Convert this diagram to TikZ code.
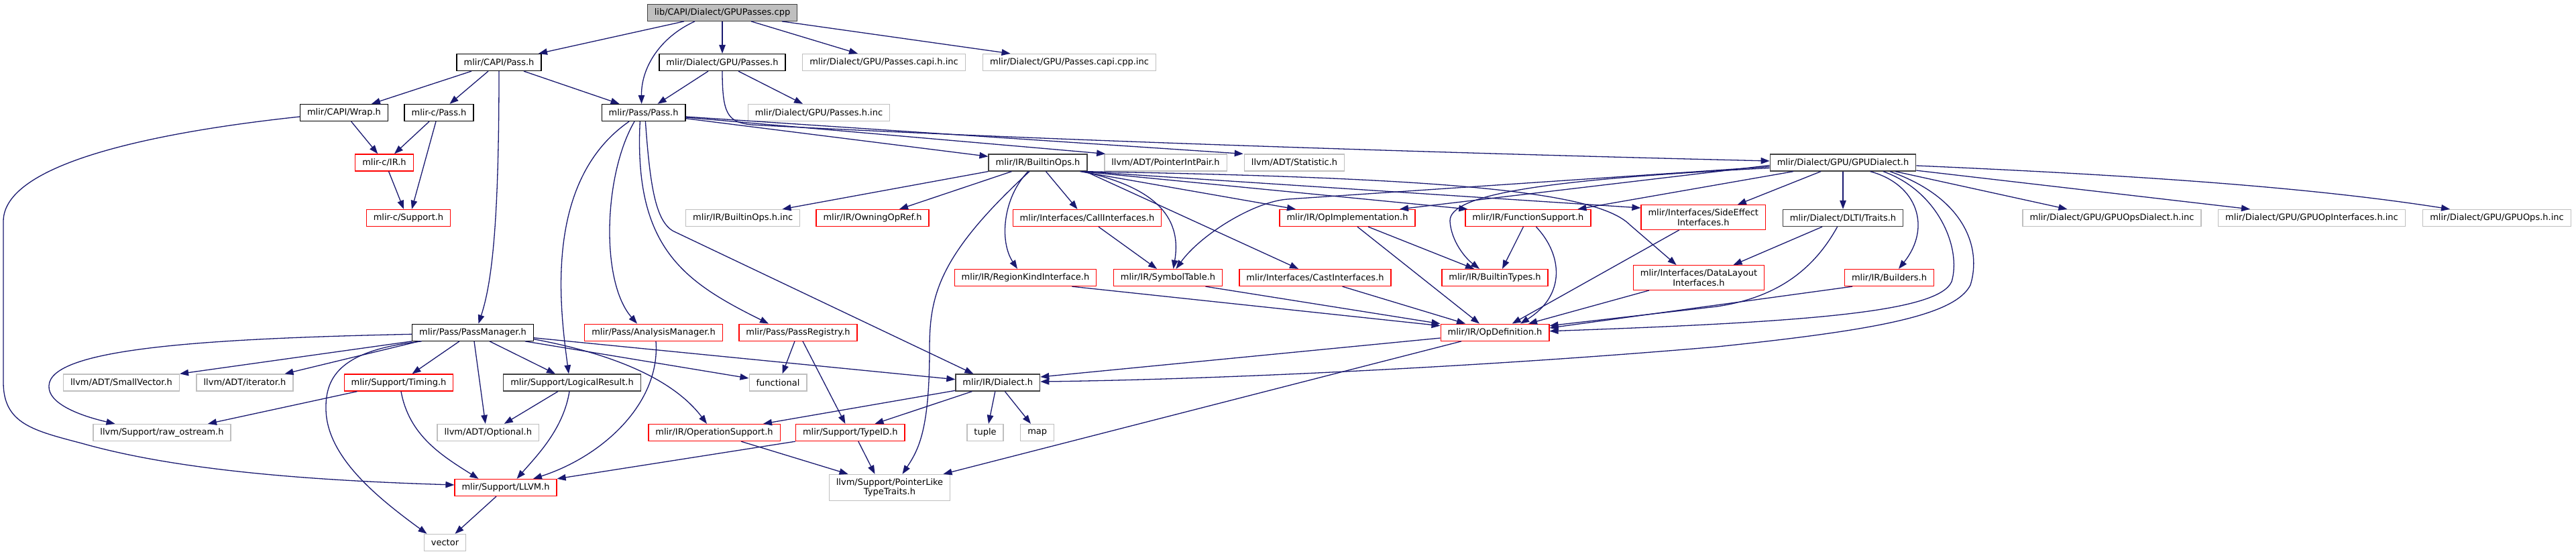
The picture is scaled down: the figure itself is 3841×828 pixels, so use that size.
\documentclass[tikz,border=0pt]{standalone}
\usepackage{fontspec}
\setmainfont{DejaVu Sans}
\usetikzlibrary{arrows.meta}
\definecolor{edgeblue}{HTML}{191970}
\definecolor{greyb}{HTML}{BFBFBF}
\definecolor{darkb}{HTML}{404040}
\definecolor{redb}{HTML}{FF0000}
\tikzset{
  nd/.style={draw, rectangle, font=\fontsize{13pt}{14.5pt}\selectfont, inner xsep=10.5pt, inner ysep=6pt,
    minimum height=25pt, line width=1.3pt, align=center, fill=white},
  dk/.style={nd, draw=black},
  dg/.style={nd, draw=darkb},
  rd/.style={nd, draw=redb},
  gy/.style={nd, draw=greyb},
  edge/.style={draw=edgeblue, line width=1.3pt, -{Triangle[length=13pt,width=9.5pt]}}
}
\begin{document}
\begin{tikzpicture}[x=1pt,y=-1pt]
\useasboundingbox (0,0) rectangle (3841,828);
% rank 0
\node[dg, fill=greyb] (root) at (1077,18.7) {lib/CAPI/Dialect/GPUPasses.cpp};
% rank 1
\node[dk] (capipass) at (744,93) {mlir/CAPI/Pass.h};
\node[dk] (gpupasses) at (1077,93) {mlir/Dialect/GPU/Passes.h};
\node[gy] (capih) at (1318,93) {mlir/Dialect/GPU/Passes.capi.h.inc};
\node[gy] (capicpp) at (1594.5,93) {mlir/Dialect/GPU/Passes.capi.cpp.inc};
% rank 2
\node[dk] (wrap) at (513,168) {mlir/CAPI/Wrap.h};
\node[dk] (cpass) at (654.5,168) {mlir-c/Pass.h};
\node[dk] (pass) at (959.6,168) {mlir/Pass/Pass.h};
\node[gy] (passesinc) at (1221,168) {mlir/Dialect/GPU/Passes.h.inc};
% rank 3
\node[rd] (cir) at (573,242.5) {mlir-c/IR.h};
\node[dg] (builtinops) at (1547.5,242.5) {mlir/IR/BuiltinOps.h};
\node[gy] (pip) at (1738,242.5) {llvm/ADT/PointerIntPair.h};
\node[gy] (stat) at (1930,242.5) {llvm/ADT/Statistic.h};
\node[dg] (gpudialect) at (2748,242.5) {mlir/Dialect/GPU/GPUDialect.h};
% rank 4
\node[rd] (csupport) at (609,325) {mlir-c/Support.h};
\node[gy] (boinc) at (1107.7,325) {mlir/IR/BuiltinOps.h.inc};
\node[rd] (owning) at (1301,325) {mlir/IR/OwningOpRef.h};
\node[rd] (callif) at (1621,325) {mlir/Interfaces/CallInterfaces.h};
\node[rd] (opimpl) at (2009,325) {mlir/IR/OpImplementation.h};
\node[rd] (funcsup) at (2278.4,325) {mlir/IR/FunctionSupport.h};
\node[rd] (sideeff) at (2539.8,324) {mlir/Interfaces/SideEffect\\Interfaces.h};
\node[dg] (dlti) at (2748,325) {mlir/Dialect/DLTI/Traits.h};
\node[gy] (opsdial) at (3149,325) {mlir/Dialect/GPU/GPUOpsDialect.h.inc};
\node[gy] (opif) at (3447,325) {mlir/Dialect/GPU/GPUOpInterfaces.h.inc};
\node[gy] (opsinc) at (3723,325) {mlir/Dialect/GPU/GPUOps.h.inc};
% rank 5
\node[rd] (regkind) at (1529,414) {mlir/IR/RegionKindInterface.h};
\node[rd] (symtab) at (1741.5,414) {mlir/IR/SymbolTable.h};
\node[rd] (castif) at (1961,414) {mlir/Interfaces/CastInterfaces.h};
\node[rd] (btypes) at (2229,414) {mlir/IR/BuiltinTypes.h};
\node[rd] (datalayout) at (2533,414) {mlir/Interfaces/DataLayout\\Interfaces.h};
\node[rd] (builders) at (2817,414) {mlir/IR/Builders.h};
% rank 6
\node[dk] (passmgr) at (705,495.7) {mlir/Pass/PassManager.h};
\node[rd] (analysis) at (974.5,495.7) {mlir/Pass/AnalysisManager.h};
\node[rd] (registry) at (1190,495.7) {mlir/Pass/PassRegistry.h};
\node[rd] (opdef) at (2229,495.7) {mlir/IR/OpDefinition.h};
% rank 7
\node[gy] (smallvec) at (181,570.5) {llvm/ADT/SmallVector.h};
\node[gy] (iter) at (365,570.5) {llvm/ADT/iterator.h};
\node[rd] (timing) at (594.5,570.5) {mlir/Support/Timing.h};
\node[dg] (logical) at (853,570.5) {mlir/Support/LogicalResult.h};
\node[gy] (functional) at (1160,570.5) {functional};
\node[dg] (dialect) at (1487.8,570.5) {mlir/IR/Dialect.h};
% rank 8
\node[gy] (rawos) at (241.5,645) {llvm/Support/raw\_ostream.h};
\node[gy] (optional) at (727.8,645) {llvm/ADT/Optional.h};
\node[rd] (opsupport) at (1065,645) {mlir/IR/OperationSupport.h};
\node[rd] (typeid) at (1267.8,645) {mlir/Support/TypeID.h};
\node[gy] (tuple) at (1469,645) {tuple};
\node[gy] (map) at (1546.7,645) {map};
% rank 9
\node[rd] (llvmh) at (754,727) {mlir/Support/LLVM.h};
\node[gy] (ptrlike) at (1326.5,727) {llvm/Support/PointerLike\\TypeTraits.h};
% rank 10
\node[gy] (vector) at (663.5,809) {vector};

% ---- edges from root
\draw[edge] ([xshift=-57pt]root.south) -- ([xshift=59pt]capipass.north);
\draw[edge] ([xshift=-41pt]root.south) .. controls (985,55) and (956,100) .. ([xshift=-3pt]pass.north);
\draw[edge] (root.south) -- (gpupasses.north);
\draw[edge] ([xshift=43pt]root.south) -- ([xshift=-39pt]capih.north);
\draw[edge] ([xshift=89pt]root.south) -- ([xshift=-88pt]capicpp.north);
% ---- capipass
\draw[edge] ([xshift=-41pt]capipass.south) -- ([xshift=41pt]wrap.north);
\draw[edge] ([xshift=-16pt]capipass.south) -- ([xshift=16pt]cpass.north);
\draw[edge] ([xshift=37pt]capipass.south) -- ([xshift=-36pt]pass.north);
\draw[edge] (capipass.south) .. controls (744,330) and (734,420) .. ([xshift=8.5pt]passmgr.north);
% ---- gpupasses
\draw[edge] ([xshift=-21pt]gpupasses.south) -- ([xshift=21pt]pass.north);
\draw[edge] ([xshift=24pt]gpupasses.south) -- ([xshift=-24pt]passesinc.north);
\draw[edge] (gpupasses.south) .. controls (1077,170) and (1085,182) .. (1120,186) .. controls (1600,212) and (2300,232) .. ([yshift=2.5pt]gpudialect.west);
% ---- pass
\draw[edge] ([yshift=-8.7pt]pass.east) -- ([yshift=9.2pt]builtinops.west);
\draw[edge] ([yshift=-7pt]pass.east) -- ([xshift=2pt]pip.north west);
\draw[edge] ([yshift=-6pt]pass.east) -- ([xshift=-1pt]stat.north west);
\draw[edge] ([xshift=-21.6pt]pass.south) .. controls (810,270) and (835,460) .. ([xshift=-5pt]logical.north);
\draw[edge] ([xshift=-13.6pt]pass.south) .. controls (900,260) and (895,420) .. ([xshift=-24.5pt]analysis.north);
\draw[edge] ([xshift=-5.3pt]pass.south) .. controls (945,370) and (1020,420) .. ([xshift=-44pt]registry.north);
\draw[edge] ([xshift=2.8pt]pass.south) .. controls (970,290) and (980,336) .. (1009,347) -- ([xshift=-36.4pt]dialect.north);
% ---- builtinops
\draw[edge] (builtinops.south west) -- ([xshift=58.8pt]boinc.north);
\draw[edge] ([xshift=-39pt]builtinops.south) -- ([xshift=40pt]owning.north);
\draw[edge] ([xshift=12pt]builtinops.south) -- ([xshift=-14.5pt]callif.north);
\draw[edge] ([xshift=-14.5pt]builtinops.south) .. controls (1495,295) and (1490,360) .. ([xshift=-12pt]regkind.north);
\draw[edge] ([xshift=-12.5pt]builtinops.south) .. controls (1400,380) and (1386,440) .. (1386,520) .. controls (1386,640) and (1370,670) .. ([xshift=19pt]ptrlike.north);
\draw[edge] ([xshift=67pt]builtinops.south) .. controls (1700,275) and (1765,310) .. ([xshift=8pt]symtab.north);
\draw[edge] ([xshift=71pt]builtinops.south) -- ([xshift=-25pt]castif.north);
\draw[edge] ([xshift=63pt]builtinops.south) -- ([xshift=-77pt]opimpl.north);
\draw[edge] ([xshift=65pt]builtinops.south) -- ([xshift=4pt]funcsup.north west);
\draw[edge] ([xshift=67pt]builtinops.south) -- ([yshift=14pt]sideeff.west);
\draw[edge] ([xshift=69pt]builtinops.south) .. controls (2150,265) and (2380,285) .. (2430,335) -- ([xshift=-33.4pt]datalayout.north);
% ---- gpudialect
\draw[edge] ([yshift=-4pt]gpudialect.west) -- ([xshift=78pt]opimpl.north);
\draw[edge] ([yshift=-6pt]gpudialect.west) -- (1920,297) .. controls (1870,300.4) and (1790,350) .. ([xshift=12pt]symtab.north);
\draw[edge] ([yshift=-8pt]gpudialect.west) .. controls (2300,268) and (2160,290) .. (2162,330) .. controls (2164,360) and (2185,385) .. ([xshift=-23pt]btypes.north);
\draw[edge] ([xshift=-74pt]gpudialect.south) -- ([xshift=74pt]funcsup.north);
\draw[edge] ([xshift=-33pt]gpudialect.south) -- ([xshift=51pt]sideeff.north);
\draw[edge] (gpudialect.south) -- (dlti.north);
\draw[edge] ([xshift=40.6pt]gpudialect.south) .. controls (2860,275) and (2880,340) .. ([xshift=14pt]builders.north);
\draw[edge] ([xshift=60pt]gpudialect.south) .. controls (2890,285) and (2925,370) .. (2910,420) .. controls (2890,465) and (2700,480) .. ([yshift=2pt]opdef.east);
\draw[edge] ([xshift=70pt]gpudialect.south) .. controls (2930,295) and (2955,370) .. (2938,425) .. controls (2915,470) and (2800,492) .. (2560,517) .. controls (2200,548) and (1800,566) .. ([yshift=1.5pt]dialect.east);
\draw[edge] ([xshift=78pt]gpudialect.south) -- ([xshift=-66.6pt]opsdial.north);
\draw[edge] ([yshift=1.5pt]gpudialect.south east) -- ([xshift=-92pt]opif.north);
\draw[edge] ([yshift=-4.5pt]gpudialect.east) .. controls (3200,262) and (3450,280) .. ([xshift=-70pt]opsinc.north);
% ---- C API cluster
\draw[edge] ([xshift=-14.5pt]cpass.south) -- ([xshift=15pt]cir.north);
\draw[edge] ([xshift=-4.5pt]cpass.south) -- ([xshift=5pt]csupport.north);
\draw[edge] ([xshift=10.7pt]wrap.south) -- ([xshift=-9.7pt]cir.north);
\draw[edge] ([xshift=6.6pt]cir.south) -- ([xshift=-7pt]csupport.north);
\draw[edge] ([yshift=-6pt]wrap.west) .. controls (250,195) and (5,240) .. (5,330) -- (5,570) .. controls (5,632) and (50,642) .. (122,661) .. controls (260,700) and (450,716) .. ([yshift=4pt]llvmh.west);
% ---- passmgr
\draw[edge] (passmgr.south west) -- (smallvec.north east);
\draw[edge] ([xshift=-80pt]passmgr.south) -- ([xshift=59.5pt]iter.north);
\draw[edge] ([yshift=-2.6pt]passmgr.west) .. controls (300,505) and (75,520) .. (73,575) .. controls (71,602) and (120,620) .. ([xshift=-70pt]rawos.north);
\draw[edge] ([xshift=-20pt]passmgr.south) -- ([xshift=20pt]timing.north);
\draw[edge] ([xshift=-76.4pt]passmgr.south) .. controls (510,522) and (485,560) .. (486,610) .. controls (487,680) and (560,740) .. ([xshift=-27pt]vector.north);
\draw[edge] ([xshift=2pt]passmgr.south) -- ([xshift=-4pt]optional.north);
\draw[edge] ([xshift=25pt]passmgr.south) -- ([xshift=-25pt]logical.north);
\draw[edge] ([xshift=78pt]passmgr.south) -- ([yshift=6.5pt]functional.west);
\draw[edge] ([yshift=-10pt]passmgr.east) .. controls (900,525) and (1000,560) .. ([xshift=-11pt]opsupport.north);
\draw[edge] ([yshift=-8pt]passmgr.east) -- ([yshift=4.8pt]dialect.west);
% ---- analysis / registry / logical / timing / llvm
\draw[edge] ([xshift=3.5pt]analysis.south) .. controls (985,600) and (900,680) .. ([xshift=41pt]llvmh.north);
\draw[edge] ([xshift=-5pt]registry.south) -- ([xshift=6.5pt]functional.north);
\draw[edge] ([xshift=7pt]registry.south) -- ([xshift=-7.4pt]typeid.north);
\draw[edge] ([xshift=-21pt]logical.south) -- ([xshift=24pt]optional.north);
\draw[edge] ([xshift=-4pt]logical.south) .. controls (840,640) and (800,680) .. ([xshift=16.6pt]llvmh.north);
\draw[edge] ([xshift=-62pt]timing.south) -- ([xshift=68.5pt]rawos.north);
\draw[edge] ([xshift=3.5pt]timing.south) .. controls (610,650) and (660,680) .. ([xshift=-40.5pt]llvmh.north);
\draw[edge] ([xshift=-14pt]llvmh.south) -- ([xshift=15pt]vector.north);
% ---- dialect
\draw[edge] ([yshift=-11.8pt]dialect.west) -- ([xshift=73pt]opsupport.north);
\draw[edge] ([xshift=-38.4pt]dialect.south) -- ([xshift=36.7pt]typeid.north);
\draw[edge] ([xshift=-4pt]dialect.south) -- ([xshift=5pt]tuple.north);
\draw[edge] ([xshift=10.6pt]dialect.south) -- ([xshift=-9.7pt]map.north);
\draw[edge] ([xshift=12pt]typeid.south) -- ([xshift=-22pt]ptrlike.north);
\draw[edge] (typeid.south west) -- (llvmh.north east);
\draw[edge] ([xshift=40pt]opsupport.south) -- ([xshift=-62pt]ptrlike.north);
% ---- opdef
\draw[edge] ([yshift=-8.3pt]opdef.west) -- ([yshift=8.5pt]dialect.east);
\draw[edge] ([xshift=-50pt]opdef.south) -- ([xshift=80pt]ptrlike.north);
\draw[edge] ([xshift=69.4pt]regkind.south) -- ([yshift=10pt]opdef.west);
\draw[edge] ([xshift=56pt]symtab.south) -- ([yshift=13pt]opdef.west);
\draw[edge] ([xshift=40.6pt]castif.south) -- ([xshift=-44pt]opdef.north);
\draw[edge] ([xshift=15pt]opimpl.south) -- ([xshift=-23pt]opdef.north);
\draw[edge] ([xshift=12pt]funcsup.south) .. controls (2330,380) and (2335,440) .. ([xshift=38pt]opdef.north);
\draw[edge] ([xshift=-36pt]sideeff.south) -- ([xshift=25.7pt]opdef.north);
\draw[edge] ([xshift=-74pt]datalayout.south) -- ([xshift=50pt]opdef.north);
\draw[edge] ([xshift=-8.4pt]dlti.south) .. controls (2700,410) and (2640,445) .. (2560,457) -- ([yshift=10pt]opdef.east);
\draw[edge] ([xshift=-55pt]builders.south) -- ([yshift=6.7pt]opdef.east);
% ---- remaining
\draw[edge] ([xshift=-31pt]dlti.south) -- ([xshift=51.5pt]datalayout.north);
\draw[edge] ([xshift=31pt]opimpl.south) -- ([xshift=-31pt]btypes.north);
\draw[edge] ([xshift=-7pt]funcsup.south) -- ([xshift=11pt]btypes.north);
\draw[edge] ([xshift=17pt]callif.south) -- ([xshift=-16.5pt]symtab.north);
\end{tikzpicture}
\end{document}
